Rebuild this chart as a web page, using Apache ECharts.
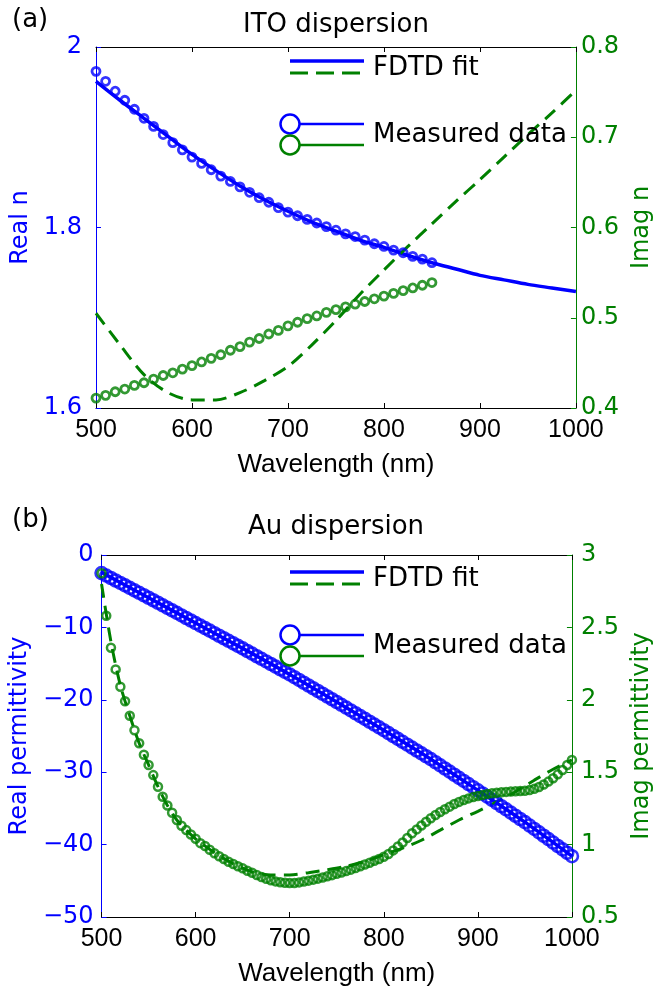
<!DOCTYPE html>
<html><head><meta charset="utf-8">
<script src="https://cdn.jsdelivr.net/npm/echarts@6/dist/echarts.min.js"></script>
<style>html,body{margin:0;padding:0;background:#fff}#c{width:662px;height:990px}</style>
</head><body><div id="c"></div>
<script>
const BLUE = '#0000ff', GREEN = '#008000';
function range(a, b, s) { const r = []; for (let v = a; v <= b + 1e-9; v += s) r.push(v); return r; }

// ---------- Panel (a): ITO dispersion ----------
const itoMeasWl = range(500, 850, 10);
const itoRealMeas = [1.973,1.962,1.951,1.941,1.931,1.921,1.912,1.903,1.894,1.886,
  1.878,1.871,1.864,1.857,1.851,1.845,1.839,1.833,1.828,1.822,
  1.817,1.813,1.809,1.805,1.801,1.797,1.793,1.790,1.786,1.782,
  1.779,1.775,1.772,1.768,1.765,1.761];
const itoImagMeas = [0.411,0.414,0.418,0.421,0.425,0.428,0.432,0.436,0.439,0.443,
  0.447,0.451,0.455,0.459,0.464,0.468,0.473,0.477,0.482,0.486,
  0.491,0.495,0.499,0.502,0.506,0.509,0.512,0.515,0.518,0.521,
  0.524,0.527,0.530,0.533,0.536,0.539];
const itoFitWl = range(500, 1000, 25);
const itoRealFit = [1.962,1.941,1.921,1.901,1.881,1.863,1.846,1.831,1.818,1.806,1.796,
  1.786,1.778,1.769,1.761,1.754,1.747,1.742,1.737,1.733,1.729];
const itoImagFit = [0.505,0.470,0.437,0.417,0.409,0.409,0.417,0.430,0.446,0.470,0.497,
  0.526,0.553,0.579,0.604,0.629,0.653,0.678,0.703,0.727,0.752];

// ---------- Panel (b): Au dispersion ----------
const auMeasWl = range(500, 1000, 5);
const auRealMeas = [-2.50,-2.84,-3.18,-3.52,-3.86,-4.20,-4.54,-4.88,-5.22,-5.56,
  -5.90,-6.25,-6.60,-6.95,-7.30,-7.65,-8.00,-8.35,-8.70,-9.05,
  -9.40,-9.75,-10.10,-10.45,-10.80,-11.15,-11.50,-11.85,-12.20,-12.55,
  -12.90,-13.26,-13.62,-13.98,-14.34,-14.70,-15.06,-15.42,-15.78,-16.14,
  -16.50,-16.88,-17.26,-17.64,-18.02,-18.40,-18.78,-19.16,-19.54,-19.92,
  -20.30,-20.69,-21.08,-21.47,-21.86,-22.25,-22.64,-23.03,-23.42,-23.81,
  -24.20,-24.60,-25.00,-25.40,-25.80,-26.20,-26.60,-27.00,-27.40,-27.80,
  -28.20,-28.63,-29.06,-29.49,-29.92,-30.35,-30.78,-31.21,-31.64,-32.07,
  -32.50,-32.94,-33.38,-33.82,-34.26,-34.70,-35.14,-35.58,-36.02,-36.46,
  -36.90,-37.37,-37.84,-38.31,-38.78,-39.25,-39.72,-40.19,-40.66,-41.13,
  -41.60];
const auImagMeas = [2.874,2.58,2.36,2.21,2.09,1.99,1.89,1.79,1.70,1.62,
  1.55,1.48,1.40,1.33,1.27,1.22,1.17,1.13,1.10,1.07,
  1.04,1.01,0.99,0.965,0.94,0.92,0.90,0.882,0.866,0.850,
  0.836,0.820,0.805,0.790,0.776,0.764,0.754,0.746,0.740,0.736,
  0.734,0.735,0.739,0.745,0.751,0.758,0.765,0.773,0.781,0.789,
  0.798,0.807,0.817,0.827,0.838,0.850,0.862,0.875,0.888,0.901,
  0.916,0.935,0.960,0.987,1.015,1.045,1.078,1.105,1.132,1.158,
  1.182,1.204,1.225,1.244,1.262,1.280,1.295,1.308,1.319,1.328,
  1.336,1.343,1.349,1.354,1.358,1.361,1.364,1.366,1.368,1.370,
  1.372,1.377,1.385,1.398,1.415,1.435,1.458,1.485,1.515,1.550,
  1.585];
const auRealFitWl = range(500, 1000, 50);
const auRealFit = [-2.4,-5.9,-9.4,-12.9,-16.5,-20.3,-24.2,-28.2,-32.5,-36.9,-41.6];
const auImagFitWl = [500,510,520,530,540,550,560,570,580,590,600,620,640,660,680,700,720,740,760,780,800,820,840,860,880,900,920,940,960,980,1000];
const auImagFit = [2.80,2.40,2.10,1.89,1.70,1.55,1.40,1.27,1.17,1.10,1.04,0.945,0.868,0.812,0.790,0.790,0.806,0.826,0.850,0.885,0.930,0.975,1.030,1.100,1.170,1.230,1.295,1.365,1.445,1.520,1.585];

const pair = (xs, ys) => xs.map((x, i) => [x, ys[i]]);
const minus = v => String(v).replace('-', '\u2212');

const TICKF = 'DejaVu Sans';
const XF = 'Liberation Sans';

function xAx(grid, pos) {
  const top = pos === 'top';
  return {
    type: 'value', gridIndex: grid, position: pos, min: 500, max: 1000, interval: 100,
    axisLine: { show: true, onZero: false, lineStyle: { color: '#000', width: 1 } },
    axisTick: { show: true, inside: true, length: 5, lineStyle: { color: '#000' } },
    axisLabel: { show: !top, margin: 10, color: '#000', fontFamily: XF, fontSize: 25, formatter: v => String(v) },
    splitLine: { show: false },
    name: top ? '' : 'Wavelength (nm)', nameLocation: 'middle', nameGap: 44,
    nameTextStyle: { color: '#000', fontFamily: XF, fontSize: 26 }
  };
}
function yAx(grid, pos, min, max, interval, color, name, margin) {
  return {
    type: 'value', gridIndex: grid, position: pos, min, max, interval,
    axisLine: { show: true, onZero: false, lineStyle: { color, width: 1 } },
    axisTick: { show: true, inside: true, length: 5, lineStyle: { color } },
    axisLabel: { margin, color, fontFamily: TICKF, fontSize: 24, formatter: minus },
    splitLine: { show: false },
    name, nameLocation: 'middle', nameRotate: 90, nameGap: 52,
    nameTextStyle: { color, fontFamily: TICKF, fontSize: 24 }
  };
}

function meas(name, xi, yi, data, color, size, bw) {
  return { name, type: 'scatter', xAxisIndex: xi, yAxisIndex: yi, data, symbol: 'circle', symbolSize: size,
    itemStyle: { color: 'rgba(0,0,0,0)', borderColor: color, borderWidth: bw }, z: 3 };
}
function fit(name, xi, yi, data, color, width, dashed) {
  return { name, type: 'line', xAxisIndex: xi, yAxisIndex: yi, data, showSymbol: false, smooth: 0.3,
    lineStyle: { color, width, type: dashed ? [14, 8] : 'solid' }, z: 2 };
}

function txt(x, y, text, size, align, color) {
  return { type: 'text', x, y, z: 100, style: { text, fontSize: size, fontFamily: 'DejaVu Sans', fill: color || '#000', align: align || 'left', verticalAlign: 'middle' } };
}
function ln(x1, y1, x2, y2, color, w, dash) {
  return { type: 'line', z: 100, shape: { x1, y1, x2, y2 }, style: { stroke: color, lineWidth: w, lineDash: dash || null } };
}
function circ(cx, cy, r, color) {
  return { type: 'circle', z: 100, shape: { cx, cy, r }, style: { fill: 'none', stroke: color, lineWidth: 2.5 } };
}
function legend(yTop, yMeas) {
  return [
    ln(290, yTop, 364, yTop, BLUE, 3.5),
    ln(290, yTop + 12, 364, yTop + 12, GREEN, 3, [18, 8]),
    txt(373, yTop + 7, 'FDTD fit', 26),
    circ(290, yMeas, 9.5, BLUE), ln(300, yMeas, 364, yMeas, BLUE, 2.5),
    circ(290, yMeas + 21, 9.5, GREEN), ln(300, yMeas + 21, 364, yMeas + 21, GREEN, 2.5),
    txt(373, yMeas + 11, 'Measured data', 26)
  ];
}

const chart = echarts.init(document.getElementById('c'), null, { renderer: 'canvas' });
chart.setOption({
  animation: false,
  backgroundColor: '#fff',
  grid: [
    { left: 96, right: 85, top: 47, height: 361 },
    { left: 96, right: 85, top: 555, height: 362 }
  ],
  xAxis: [xAx(0, 'bottom'), xAx(0, 'top'), xAx(1, 'bottom'), xAx(1, 'top')],
  yAxis: [
    yAx(0, 'left', 1.6, 2.0, 0.2, BLUE, 'Real n', 14),
    yAx(0, 'right', 0.4, 0.8, 0.1, GREEN, 'Imag n', 5),
    yAx(1, 'left', -50, 0, 10, BLUE, 'Real permittivity', 8),
    yAx(1, 'right', 0.5, 3, 0.5, GREEN, 'Imag permittivity', 9)
  ],
  series: [
    fit('ITO real fit', 0, 0, pair(itoFitWl, itoRealFit), BLUE, 3.5, false),
    fit('ITO imag fit', 0, 1, pair(itoFitWl, itoImagFit), GREEN, 3, true),
    meas('ITO real measured', 0, 0, pair(itoMeasWl, itoRealMeas), BLUE, 8, 2.8),
    meas('ITO imag measured', 0, 1, pair(itoMeasWl, itoImagMeas), GREEN, 8, 2.8),
    fit('Au real fit', 2, 2, pair(auRealFitWl, auRealFit), BLUE, 3.5, false),
    meas('Au real measured', 2, 2, pair(auMeasWl, auRealMeas), BLUE, 12, 2.6),
    fit('Au imag fit', 2, 3, pair(auImagFitWl, auImagFit), GREEN, 3, true),
    meas('Au imag measured', 2, 3, pair(auMeasWl, auImagMeas), GREEN, 8, 2.5)
  ],
  graphic: [
    txt(12, 20, '(a)', 26),
    txt(336, 25, 'ITO dispersion', 26, 'center'),
    txt(12, 520, '(b)', 26),
    txt(336, 527, 'Au dispersion', 26, 'center'),
    ...legend(61, 124),
    ...legend(572, 635)
  ]
});
</script>
</body></html>
